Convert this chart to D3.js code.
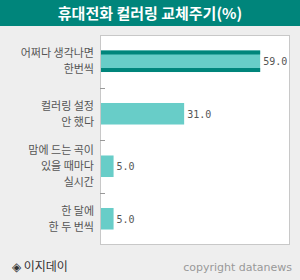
<!DOCTYPE html>
<html>
<head>
<meta charset="utf-8">
<script src="https://cdn.jsdelivr.net/npm/d3@7"></script>
<style>
  body { margin: 0; background: #eeeeee; }
  svg { display: block; }
</style>
</head>
<body>
<svg class="chart"></svg>
<script>
// data
const categories = ["어쩌다 생각나면|한번씩", "컬러링 설정|안 했다", "맘에 드는 곡이|있을 때마다|실시간", "한 달에|한 두 번씩"]
const values = [59.0, 31.0, 5.0, 5.0]
const highlight = [true, false, false, false]
const xDomain = [0, 70]

// dimensions
const w = 300
const h = 280
const margin = { top: 35, right: 10, bottom: 35, left: 100 }

const svg = d3.select('.chart')
    .attr('width', w)
    .attr('height', h)

svg.append('rect')
    .attr('width', w).attr('height', h)
    .attr('fill', '#eeeeee')

// title bar
svg.append('rect')
    .attr('width', w).attr('height', 26)
    .attr('fill', '#00857b')
svg.append('text')
    .attr('x', w / 2)
    .attr('y', 19)
    .attr('text-anchor', 'middle')
    .attr('fill', '#ffffff')
    .style('font-family', '"Noto Sans CJK KR", sans-serif')
    .style('font-size', '15px')
    .style('font-weight', 'bold')
    .text('휴대전화 컬러링 교체주기(%)')

// scales
const xScale = d3.scaleLinear()
    .domain(xDomain)
    .range([margin.left, w - margin.right])
const yScale = d3.scaleBand()
    .domain(d3.range(categories.length))
    .range([margin.top, h - margin.bottom])
    .paddingInner(0.59)
    .paddingOuter(0.295)

// plot area
svg.append('rect')
    .attr('x', margin.left + 0.5)
    .attr('y', margin.top + 0.5)
    .attr('width', w - margin.left - margin.right - 1)
    .attr('height', h - margin.top - margin.bottom - 1)
    .attr('fill', '#ffffff')
    .attr('stroke', '#c8c8c8')

// separator ticks
const step = yScale.step()
d3.range(1, categories.length).forEach(i => {
    const y = Math.round(margin.top + i * step) + 0.5
    svg.append('line')
        .attr('x1', margin.left).attr('x2', margin.left + 5)
        .attr('y1', y).attr('y2', y)
        .attr('stroke', '#999999')
})

// bars
const bars = svg.append('g')
values.forEach((v, i) => {
    const y = yScale(i)
    const bh = yScale.bandwidth()
    bars.append('rect')
        .attr('x', margin.left + 1)
        .attr('y', y)
        .attr('width', xScale(v) - margin.left - 1)
        .attr('height', bh)
        .attr('fill', '#68cdc8')
    if (highlight[i]) {
        bars.append('rect')
            .attr('x', margin.left + 1).attr('y', y)
            .attr('width', xScale(v) - margin.left - 1).attr('height', 4)
            .attr('fill', '#00857b')
        bars.append('rect')
            .attr('x', margin.left + 1).attr('y', y + bh - 4)
            .attr('width', xScale(v) - margin.left - 1).attr('height', 4)
            .attr('fill', '#00857b')
    }
    svg.append('text')
        .attr('x', xScale(v) + 3)
        .attr('y', y + bh / 2 + 4)
        .attr('fill', '#555555')
        .style('font-family', '"DejaVu Sans Mono", monospace')
        .style('font-size', '10px')
        .text(d3.format('.1f')(v))
})

// category labels
categories.forEach((c, i) => {
    const lines = c.split('|')
    const cy = yScale(i) + yScale.bandwidth() / 2
    const lh = 16
    const t = svg.append('text')
        .attr('text-anchor', 'end')
        .attr('fill', '#555555')
        .style('font-family', '"Noto Sans CJK KR", sans-serif')
        .style('font-size', '11px')
    lines.forEach((l, j) => {
        t.append('tspan')
            .attr('x', 94)
            .attr('y', cy - (lines.length - 1) * lh / 2 + j * lh + 4)
            .text(l)
    })
})

// footer
svg.append('text')
    .attr('x', 12)
    .attr('y', 271)
    .attr('fill', '#333333')
    .style('font-family', '"Noto Sans CJK KR", sans-serif')
    .style('font-size', '12px')
    .text('◈ 이지데이')
svg.append('text')
    .attr('x', 292)
    .attr('y', 271)
    .attr('text-anchor', 'end')
    .attr('fill', '#999999')
    .style('font-family', '"DejaVu Sans", sans-serif')
    .style('font-size', '11px')
    .text('copyright datanews')
</script>
</body>
</html>
